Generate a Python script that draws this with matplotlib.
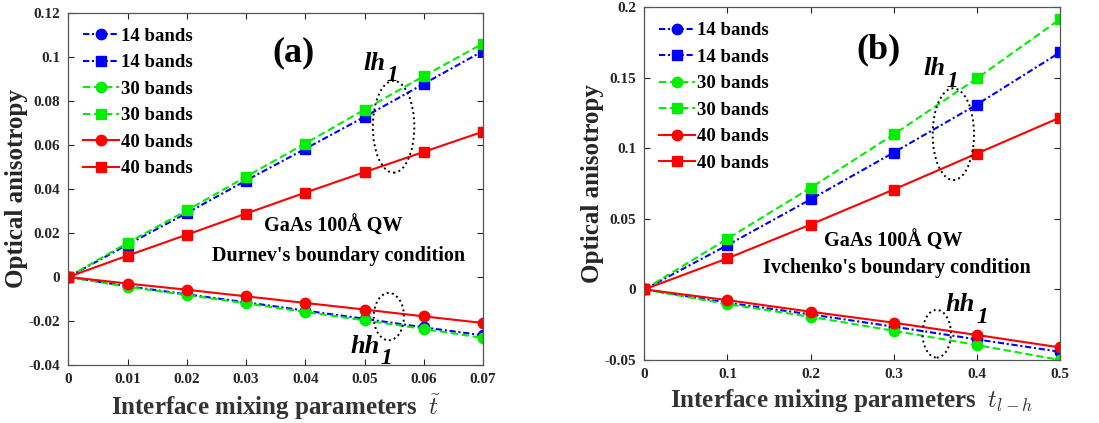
import numpy as np
from matplotlib import pyplot as plt
from matplotlib.patches import Ellipse
from matplotlib.ticker import FuncFormatter

################### DATA ###################
# panel (a): Durnev's boundary condition
t_a = [0, 0.01, 0.02, 0.03, 0.04, 0.05, 0.06, 0.07]
hh14_a = [0, -0.0042, -0.0079, -0.0115, -0.0153, -0.0190, -0.0229, -0.0265]
lh14_a = [0, 0.0147, 0.0290, 0.0438, 0.0582, 0.0727, 0.0877, 0.1026]
hh30_a = [0, -0.0045, -0.0082, -0.0120, -0.0159, -0.0197, -0.0236, -0.0277]
lh30_a = [0, 0.0155, 0.0302, 0.0455, 0.0606, 0.0760, 0.0912, 0.1060]
hh40_a = [0, -0.0030, -0.0058, -0.0088, -0.0118, -0.0148, -0.0179, -0.0209]
lh40_a = [0, 0.0097, 0.0192, 0.0288, 0.0383, 0.0476, 0.0568, 0.0660]

# panel (b): Ivchenko's boundary condition
t_b = [0, 0.1, 0.2, 0.3, 0.4, 0.5]
hh14_b = [0, -0.0094, -0.0177, -0.0264, -0.0354, -0.0442]
lh14_b = [0, 0.0314, 0.0638, 0.0970, 0.1310, 0.1680]
hh30_b = [0, -0.0104, -0.0194, -0.0293, -0.0394, -0.0500]
lh30_b = [0, 0.0359, 0.0720, 0.1098, 0.1495, 0.1915]
hh40_b = [0, -0.0076, -0.0158, -0.0236, -0.0323, -0.0411]
lh40_b = [0, 0.0220, 0.0460, 0.0708, 0.0963, 0.1218]

labels = ["14 bands", "14 bands", "30 bands", "30 bands", "40 bands", "40 bands"]
colors = ["#0000ff", "#0000ff", "#00ee00", "#00ee00", "#ff0000", "#ff0000"]
dashes = [(3, 1.3, 1, 1.3), (3, 1.3, 1, 1.3), (3.5, 1.8), (3.5, 1.8), None, None]
markers = ["o", "s", "o", "s", "o", "s"]

################### STYLE ###################
plt.rcParams['font.family'] = ['Liberation Serif', 'DejaVu Serif']
plt.rcParams['font.weight'] = 'bold'
plt.rcParams['axes.labelweight'] = 'bold'
plt.rcParams['mathtext.fontset'] = 'cm'
axcol = '#262626'

fig = plt.figure(figsize=(10.99, 4.23), dpi=100)
ax1 = fig.add_axes([0.0622, 0.137, 0.3773, 0.833])
ax2 = fig.add_axes([0.5863, 0.149, 0.3782, 0.834])

def draw(ax, t, series, xlim, ylim, xticks, yticks):
    for s, lab, c, d, m in zip(series, labels, colors, dashes, markers):
        ms = 7.5 if m == "o" else 6.5
        line, = ax.plot(t, s, color=c, marker=m, markersize=ms,
                        markerfacecolor=c, markeredgecolor=c, linewidth=1.5, label=lab)
        if d is not None:
            line.set_dashes(d)
    ax.set_xlim(xlim)
    ax.set_ylim(ylim)
    ax.set_xticks(xticks)
    ax.set_yticks(yticks)
    fmt = FuncFormatter(lambda v, p: "%g" % round(v, 4))
    ax.xaxis.set_major_formatter(fmt)
    ax.yaxis.set_major_formatter(fmt)
    ax.tick_params(direction='in', top=True, right=True, length=4, width=0.8,
                   labelsize=11, colors=axcol, pad=6)
    for sp in ax.spines.values():
        sp.set_color('#555555')
        sp.set_linewidth(0.9)
    ax.set_ylabel("Optical anisotropy", fontsize=18, color=axcol, labelpad=0)
    ax.legend(loc='upper left', frameon=False, fontsize=13.5,
              handlelength=1.9, handletextpad=0.1, borderaxespad=0.4)

draw(ax1, t_a, [hh14_a, lh14_a, hh30_a, lh30_a, hh40_a, lh40_a],
     (0, 0.07), (-0.04, 0.12), np.arange(0, 0.0701, 0.01), np.arange(-0.04, 0.1201, 0.02))
draw(ax2, t_b, [hh14_b, lh14_b, hh30_b, lh30_b, hh40_b, lh40_b],
     (0, 0.5), (-0.05, 0.2), np.arange(0, 0.501, 0.1), np.arange(-0.05, 0.2001, 0.05))

ax1.set_xlabel(r"Interface mixing parameters  $\tilde{t}$", fontsize=18, color='#333333', labelpad=4)
ax2.set_xlabel(r"Interface mixing parameters  $t_{l-h}$", fontsize=18, color='#333333', labelpad=4)

################### ANNOTATIONS ###################
ax1.text(0.038, 0.1018, "(a)", fontsize=26, ha='center', va='center')
ax2.text(0.2815, 0.1695, "(b)", fontsize=26, ha='center', va='center')

ax1.text(0.0447, 0.023, "GaAs 100Å QW", fontsize=14.5, ha='center', va='center')
ax1.text(0.0456, 0.0094, "Durnev's boundary condition", fontsize=14.5, ha='center', va='center')
ax2.text(0.2995, 0.0338, "GaAs 100Å QW", fontsize=14.5, ha='center', va='center')
ax2.text(0.3035, 0.0149, "Ivchenko's boundary condition", fontsize=14.5, ha='center', va='center')

def sublabel(ax, x, y, main):
    ax.text(x, y, main, fontsize=19, style='italic', ha='right', va='center')
    ax.annotate("1", xy=(x, y), xytext=(1, -9), textcoords='offset points',
                fontsize=17, style='italic', ha='left', va='center')

sublabel(ax1, 0.0535, 0.097, "lh")
sublabel(ax1, 0.0525, -0.0315, "hh")
sublabel(ax2, 0.362, 0.1565, "lh")
sublabel(ax2, 0.398, -0.011, "hh")

ellipses = [(ax1, 0.0549, 0.0682, 0.0070, 0.0417),
            (ax1, 0.0541, -0.0180, 0.0051, 0.0215),
            (ax2, 0.3717, 0.1100, 0.0497, 0.0650),
            (ax2, 0.3517, -0.0314, 0.0341, 0.0338)]
for ax, cx, cy, w, h in ellipses:
    ax.add_patch(Ellipse((cx, cy), w, h, fill=False, linestyle=':', linewidth=1.4,
                         edgecolor='black', zorder=5))

plt.savefig("out.png", dpi=100)
